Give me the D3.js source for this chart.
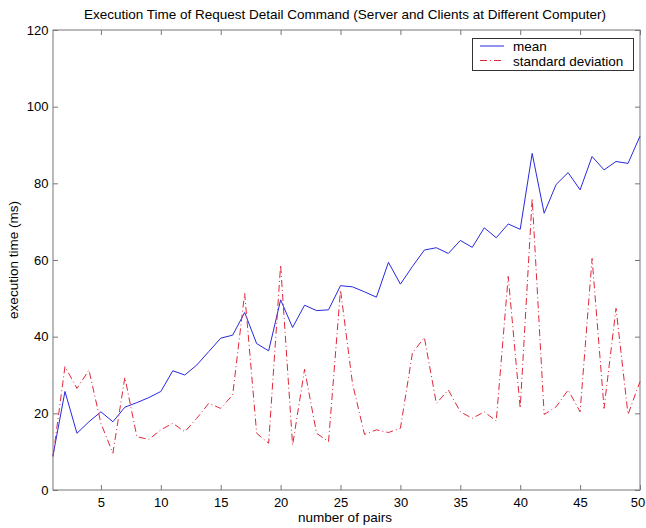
<!DOCTYPE html>
<html><head><meta charset="utf-8">
<script src="https://cdn.jsdelivr.net/npm/d3@7"></script>
<style>body{margin:0;background:#fff}svg{display:block}text{font-family:"Liberation Sans",Arial,sans-serif}</style>
</head><body><svg id="c" width="646" height="528"></svg>
<script>
const pairs = d3.range(1, 51);
const meanValues = [9,25.7,14.8,17.8,20.4,17.8,21.6,22.8,24.1,25.7,31.1,30.0,32.6,36.1,39.6,40.4,46.3,38.2,36.3,49.6,42.4,48.2,46.8,47.0,53.3,53.0,51.7,50.3,59.4,53.7,58.3,62.6,63.2,61.7,65.1,63.3,68.4,65.8,69.4,68.0,87.8,72.2,79.7,82.8,78.3,87.0,83.5,85.7,85.2,92.3];
const stdValues = [8.7,32.2,26.5,31.3,17.4,9.6,29.4,13.9,13.2,15.7,17.4,15.2,18.7,22.6,21.3,24.8,51.3,14.8,12.2,58.7,11.7,31.5,14.8,12.6,52.2,27.8,14.5,15.7,15.0,16.1,35.7,39.8,22.6,26.1,20.4,18.7,20.4,18.0,55.7,21.3,76.1,19.7,21.7,26.1,20.4,60.4,21.3,47.4,19.7,28.3];
const xTicks = [5,10,15,20,25,30,35,40,45,50];
const yTicks = [0,20,40,60,80,100,120];
const title = "Execution Time of Request Detail Command (Server and Clients at Different Computer)";
const xLabel = "number of pairs";
const yLabel = "execution time (ms)";
const seriesNames = ["mean","standard deviation"];

const svg = d3.select("#c");
const L=53,R=640,T=30,B=490;
const x = d3.scaleLinear().domain([1,50]).range([L,R]);
const y = d3.scaleLinear().domain([0,120]).range([B,T]);
const axisColor="#777";
const FS=13.5;

// box
svg.append("rect").attr("x",L).attr("y",T).attr("width",R-L).attr("height",B-T).attr("fill","none").attr("stroke",axisColor).attr("stroke-width",1);

// axes
const gx = svg.append("g").attr("transform",`translate(0,${B})`).call(d3.axisBottom(x).tickValues(xTicks).tickSize(-5).tickPadding(7.5));
const gxt = svg.append("g").attr("transform",`translate(0,${T})`).call(d3.axisTop(x).tickValues(xTicks).tickSize(-5).tickFormat(""));
const gy = svg.append("g").attr("transform",`translate(${L},0)`).call(d3.axisLeft(y).tickValues(yTicks).tickSize(-5).tickPadding(4.5));
const gyr = svg.append("g").attr("transform",`translate(${R},0)`).call(d3.axisRight(y).tickValues(yTicks).tickSize(-5).tickFormat(""));
[gx,gxt,gy,gyr].forEach(g=>{g.select(".domain").remove();g.selectAll("line").attr("stroke",axisColor);g.selectAll("text").attr("font-size",13).attr("fill","#000").attr("font-family","Liberation Sans, Arial, sans-serif");});
// keep the last x tick label inside the window
gx.selectAll(".tick text").filter(d=>d===50).attr("dx",-2.5);

// lines
const line = d3.line().x((d,i)=>x(pairs[i])).y(d=>y(d));
svg.append("path").datum(meanValues).attr("d",line).attr("fill","none").attr("stroke","#2828e0").attr("stroke-width",1);
svg.append("path").datum(stdValues).attr("d",line).attr("fill","none").attr("stroke","#e0283a").attr("stroke-width",1).attr("stroke-dasharray","7,3,1,3");

// title & labels
svg.append("text").attr("x",345).attr("y",19).attr("text-anchor","middle").attr("font-size",FS).text(title);
svg.append("text").attr("x",345).attr("y",522).attr("text-anchor","middle").attr("font-size",FS).text(xLabel);
svg.append("text").attr("transform",`translate(18,${(T+B)/2}) rotate(-90)`).attr("text-anchor","middle").attr("font-size",FS).text(yLabel);

// legend
const lg = svg.append("g");
lg.append("rect").attr("x",472.5).attr("y",38.5).attr("width",161).attr("height",32).attr("fill","#fff").attr("stroke","#333").attr("stroke-width",1);
const styles=[{c:"#2828e0",d:null},{c:"#e0283a",d:"7,3,1,3"}];
seriesNames.forEach((n,i)=>{
  const yy=46+i*14.5;
  lg.append("line").attr("x1",480).attr("x2",504).attr("y1",yy).attr("y2",yy).attr("stroke",styles[i].c).attr("stroke-dasharray",styles[i].d);
  lg.append("text").attr("x",513).attr("y",yy+5).attr("font-size",FS).text(n);
});
</script></body></html>
